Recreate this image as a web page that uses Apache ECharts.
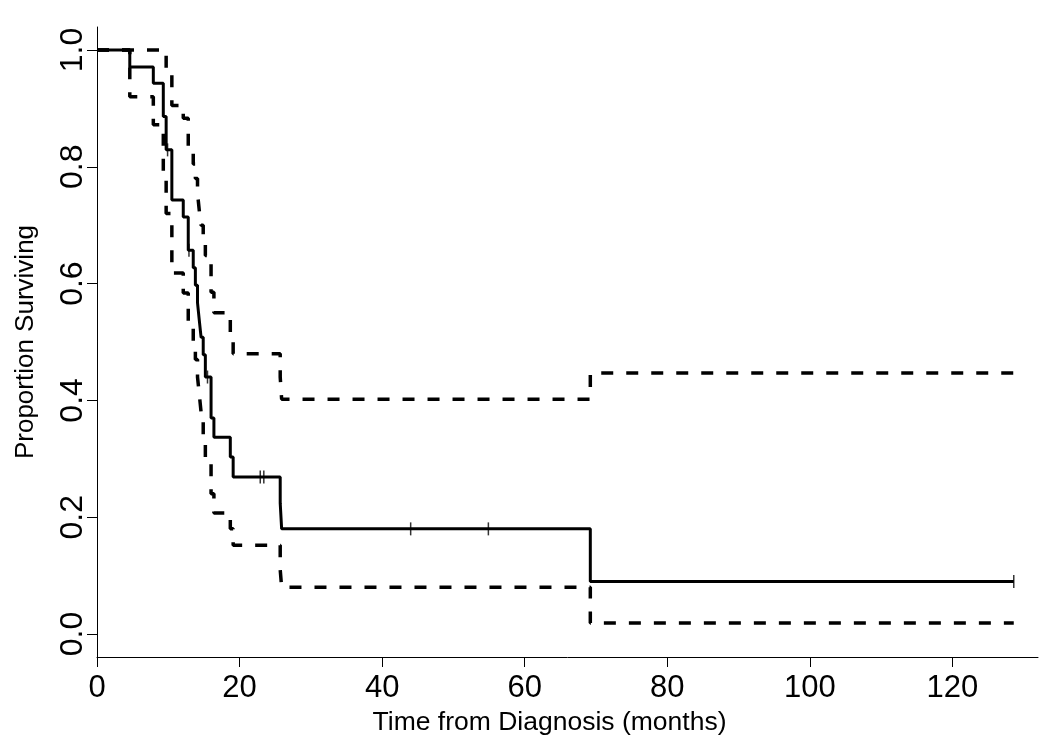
<!DOCTYPE html>
<html>
<head>
<meta charset="utf-8">
<script src="https://cdn.jsdelivr.net/npm/echarts@6/dist/echarts.min.js"></script>
<style>
html, body { margin: 0; padding: 0; background: #fff; }
#chart { width: 1050px; height: 743px; }
</style>
</head>
<body>
<div id="chart"></div>
<script>
// Kaplan-Meier estimate with confidence band
const kmTime  = [0, 4.6, 7.9, 9.3, 9.7, 10.5, 12.1, 12.8, 13.5, 13.8, 14.1, 14.35, 14.6, 14.9, 15.2, 16.0, 16.4, 18.7, 19.1, 25.7, 25.9, 69.2, 128.6];
const kmSurv  = [1.0, 0.971, 0.943, 0.886, 0.829, 0.743, 0.714, 0.657, 0.627, 0.597, 0.567, 0.537, 0.508, 0.478, 0.44, 0.37, 0.337, 0.303, 0.269, 0.224, 0.18, 0.09, 0.09];
const ciUpper = [1.0, 1.0, 1.0, 0.995, 0.965, 0.905, 0.883, 0.83, 0.805, 0.78, 0.755, 0.725, 0.70, 0.675, 0.648, 0.585, 0.55, 0.515, 0.48, 0.44, 0.402, 0.447, 0.447];
const ciLower = [1.0, 0.92, 0.872, 0.78, 0.72, 0.618, 0.584, 0.53, 0.50, 0.47, 0.44, 0.41, 0.38, 0.34, 0.298, 0.24, 0.207, 0.18, 0.152, 0.11, 0.08, 0.019, 0.019];

// censored observations
const censTime = [9.9, 12.9, 15.5, 22.9, 23.4, 44.0, 54.9, 128.6];
const censSurv = [0.829, 0.657, 0.44, 0.269, 0.269, 0.18, 0.18, 0.09];

const xTicks = [0, 20, 40, 60, 80, 100, 120];
const yTicks = [0, 0.2, 0.4, 0.6, 0.8, 1.0];

const font = "'Liberation Sans', Arial, sans-serif";

const pair = (xs, ys) => xs.map((x, i) => [x, ys[i]]);

const mychart = echarts.init(document.getElementById('chart'));

const dashed = {
  color: '#000',
  width: 3.5,
  type: [12, 13]
};

const option = {
  animation: false,
  backgroundColor: '#fff',
  grid: { left: 97, right: 12, top: 27, bottom: 86 },
  xAxis: {
    type: 'value',
    min: 0,
    max: 132,
    name: 'Time from Diagnosis (months)',
    nameLocation: 'middle',
    nameGap: 48,
    // title sits a little left of the axis centre
    nameTextStyle: { color: '#000', fontSize: 26.5, fontFamily: font, padding: [0, 36, 0, 0] },
    axisLine: { show: true, onZero: false, lineStyle: { color: '#000', width: 1 } },
    axisTick: { show: true, length: 10, customValues: xTicks, lineStyle: { color: '#000' } },
    axisLabel: { customValues: xTicks, color: '#000', fontSize: 31, fontFamily: font, margin: 16 },
    splitLine: { show: false }
  },
  yAxis: {
    type: 'value',
    min: -0.0394,
    max: 1.0394,
    name: 'Proportion Surviving',
    nameLocation: 'middle',
    nameGap: 58,
    nameTextStyle: { color: '#000', fontSize: 26, fontFamily: font },
    axisLine: { show: true, onZero: false, lineStyle: { color: '#000', width: 1 } },
    axisTick: { show: true, length: 10, customValues: yTicks, lineStyle: { color: '#000' } },
    axisLabel: {
      customValues: yTicks,
      rotate: 90,
      color: '#000',
      fontSize: 32,
      fontFamily: font,
      margin: 8,
      formatter: v => v.toFixed(1)
    },
    splitLine: { show: false }
  },
  series: [
    {
      name: 'Upper',
      type: 'line',
      step: 'end',
      symbol: 'none',
      lineStyle: dashed,
      data: pair(kmTime, ciUpper)
    },
    {
      name: 'Lower',
      type: 'line',
      step: 'end',
      symbol: 'none',
      lineStyle: dashed,
      data: pair(kmTime, ciLower)
    },
    {
      name: 'Survival',
      type: 'line',
      step: 'end',
      symbol: 'none',
      lineStyle: { color: '#000', width: 3 },
      data: pair(kmTime, kmSurv)
    },
    {
      name: 'Censored',
      type: 'scatter',
      symbol: 'rect',
      symbolSize: [1.5, 13],
      itemStyle: { color: '#000' },
      data: pair(censTime, censSurv)
    }
  ]
};
mychart.setOption(option, true);
</script>
</body>
</html>
